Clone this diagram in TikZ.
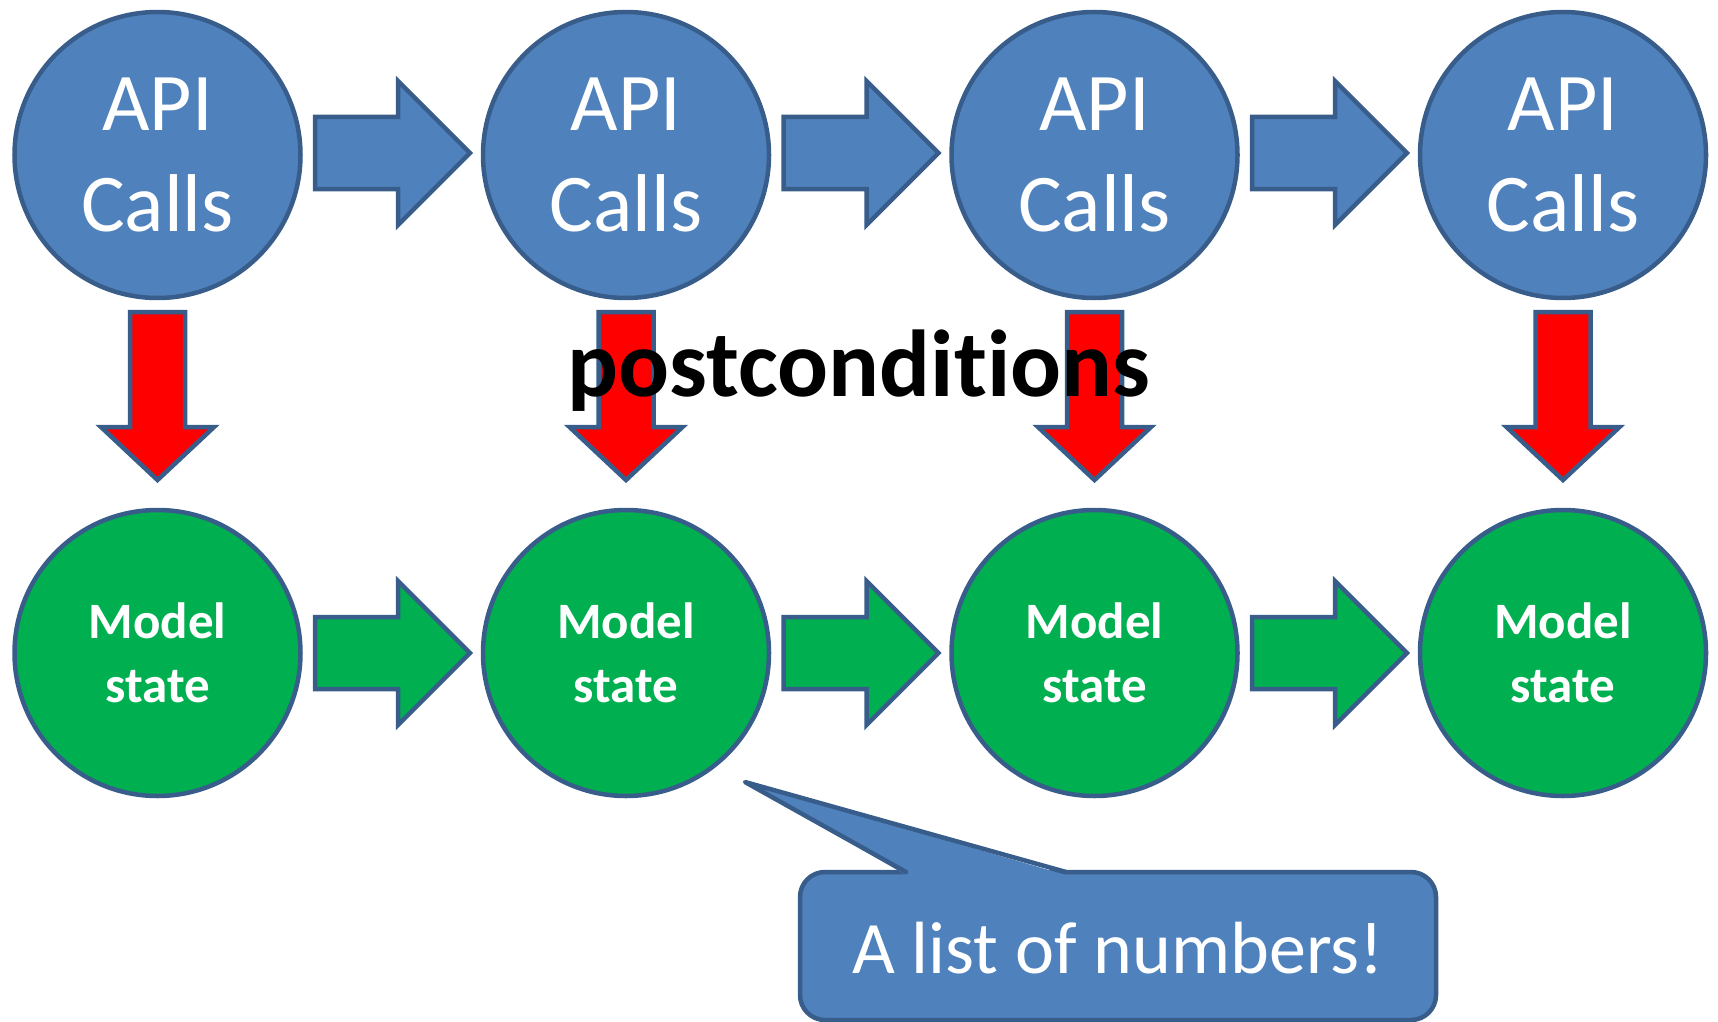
\documentclass[tikz,border=0pt]{standalone}
\usepackage{fontspec}
\setmainfont[Ligatures={NoCommon}]{Carlito}
\usetikzlibrary{calc}
\definecolor{apiblue}{HTML}{4F81BD}
\definecolor{edgeblue}{HTML}{385D8A}
\definecolor{stategreen}{HTML}{00B050}
\definecolor{postred}{HTML}{FF0000}
\tikzset{
  outline/.style={draw=edgeblue, line width=4.5pt, line join=miter},
  apicirc/.style={circle, outline, fill=apiblue, minimum size=286pt, inner sep=0pt,
    text=white, align=center, font=\fontsize{82}{101}\selectfont},
  statecirc/.style={circle, outline, fill=stategreen, minimum size=286pt, inner sep=0pt,
    text=white, align=center, font=\fontsize{51}{64}\selectfont\bfseries},
  bluearrow/.style={outline, fill=apiblue},
  greenarrow/.style={outline, fill=stategreen},
  redarrow/.style={outline, fill=postred},
  notebox/.style={draw=edgeblue, line width=4.5pt, fill=apiblue, rounded corners=25pt,
    minimum width=636pt, minimum height=148pt, inner sep=0pt},
}
\begin{document}
\begin{tikzpicture}[x=1pt, y=-1pt]
  \useasboundingbox (0,0) rectangle (1718,1022);

  % rows of circles: API calls on top, model states below
  \foreach \i/\x in {1/157.5, 2/626, 3/1094.5, 4/1563} {
    \node[apicirc] (a\i) at (\x,155) {API\\Calls};
    \node[statecirc] (m\i) at (\x,653) {Model\\state};
  }

  % block arrows between neighbouring circles
  \foreach \i in {1,2,3} {
    \begin{scope}[shift={(a\i.center)}]
      \draw[bluearrow] (157.5,-38) -- (240.5,-38) -- (240.5,-74) -- (312.5,-2)
        -- (240.5,70) -- (240.5,34) -- (157.5,34) -- cycle;
    \end{scope}
    \begin{scope}[shift={(m\i.center)}]
      \draw[greenarrow] (157.5,-36) -- (240.5,-36) -- (240.5,-72) -- (312.5,0)
        -- (240.5,72) -- (240.5,36) -- (157.5,36) -- cycle;
    \end{scope}
  }

  % red arrows from each API call down to its model state
  \foreach \i in {1,2,3,4} {
    \begin{scope}[shift={(a\i.center)}]
      \draw[redarrow] (-27.5,157) -- (27.5,157) -- (27.5,272) -- (56.5,272)
        -- (0,325) -- (-56.5,272) -- (-27.5,272) -- cycle;
    \end{scope}
  }

  \node[anchor=base, inner sep=0pt, font=\fontsize{95}{114}\selectfont\bfseries]
    (post) at (859,396) {postconditions};

  % speech callout pointing at the second model state
  \node[notebox] (note) at (1118,946) {};
  \coordinate (tip) at (745,782);
  \fill[apiblue] (906,875) -- (tip) -- (1066,875) -- cycle;
  \draw[draw=edgeblue, line width=4.5pt, line join=round, line cap=round]
    (906,872) -- (tip) -- (1066,872);
  \node[anchor=base, inner sep=0pt, text=white, font=\fontsize{74}{89}\selectfont]
    (notetext) at (1118,973) {A list of numbers!};
\end{tikzpicture}
\end{document}
